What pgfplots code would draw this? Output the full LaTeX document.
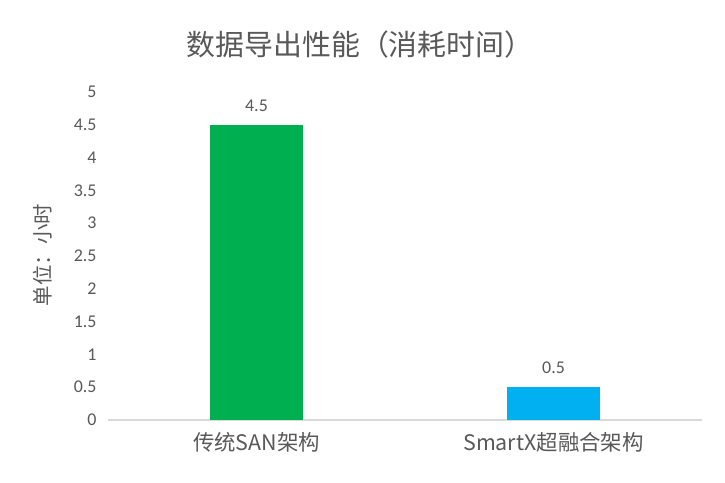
\documentclass[border=0pt]{standalone}
\usepackage{pgfplots}
\pgfplotsset{compat=1.18}
\usepackage{fontspec}
\setmainfont{Carlito}
\newfontfamily\cjk{Noto Sans CJK SC}
\definecolor{txt}{HTML}{595959}
\definecolor{axl}{HTML}{D9D9D9}
\definecolor{g1}{HTML}{00B050}
\definecolor{b1}{HTML}{00B0F0}
\pgfplotsset{/pgf/number format/assume math mode=true}
\begin{document}
\begin{tikzpicture}[x=1bp,y=1bp]
\useasboundingbox[fill=white] (0,0) rectangle (725,483);
\begin{axis}[
  at={(108bp,63bp)}, anchor=south west,
  scale only axis, width=594bp, height=328bp,
  xmin=-0.5, xmax=1.5, ymin=0, ymax=5,
  ytick={0,0.5,...,5},
  xtick={0,1},
  xticklabels={{\cjk 传统SAN架构},{\cjk SmartX超融合架构}},
  axis y line*=left,
  y axis line style={draw=none},
  axis x line*=bottom,
  x axis line style={axl, line width=1.3pt, -},
  major tick length=0pt,
  ticklabel style={txt},
  yticklabel style={font=\fontsize{18}{18}\selectfont, xshift=-8bp},
  xticklabel style={font=\fontsize{21.5}{22}\selectfont, yshift=-9bp},
  y tick label style={/pgf/number format/.cd, fixed, precision=1},
  ybar, bar width=93bp, bar shift=0pt,
  nodes near coords,
  every node near coord/.append style={txt, font=\fontsize{18}{18}\selectfont, yshift=10bp},
  clip=false,
]
\addplot[fill=g1, draw=none] coordinates {(0,4.5)};
\addplot[fill=b1, draw=none] coordinates {(1,0.5)};
\end{axis}
\node[txt, font=\cjk\fontsize{29}{29}\selectfont] at (360,438) {数据导出性能（消耗时间）};
\node[txt, font=\cjk\fontsize{20.5}{21}\selectfont, rotate=90] at (43,228) {单位：小时};
\end{tikzpicture}
\end{document}
